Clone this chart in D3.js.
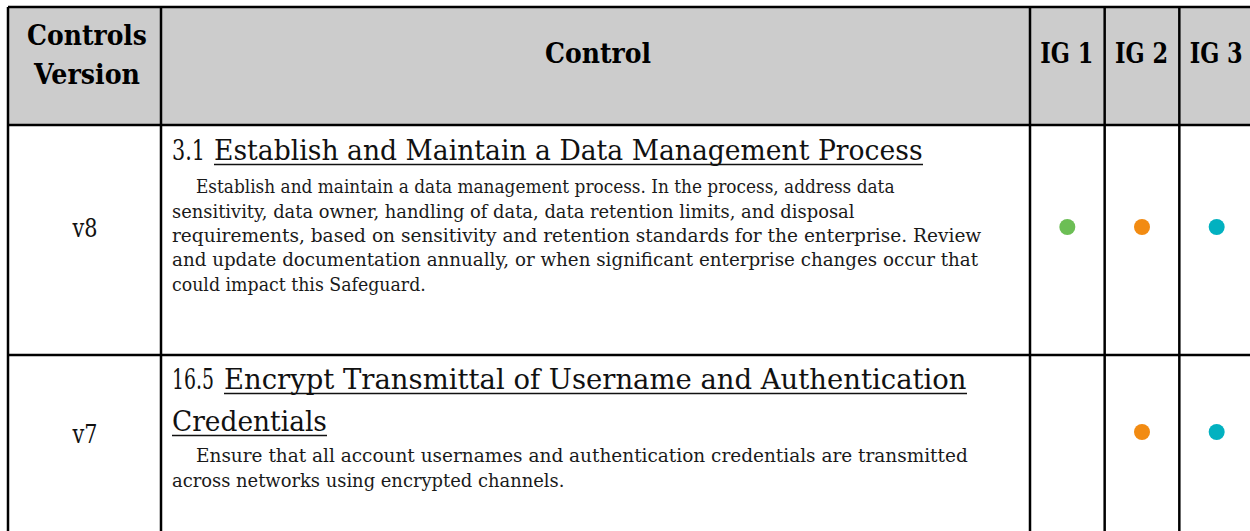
<!DOCTYPE html>
<html>
<head>
<meta charset="utf-8">
<script src="https://cdn.jsdelivr.net/npm/d3@7"></script>
<style>
  html, body { margin: 0; padding: 0; background: #ffffff; }
  svg { display: block; }
</style>
</head>
<body>
<svg id="chart" width="1250" height="531"></svg>
<script>
// ---------------- data ----------------
const headerLabels = ["Controls Version", "Control"];
const igLabels = ["IG 1", "IG 2", "IG 3"];
const versions = ["v8", "v7"];
const controlIds = ["3.1", "16.5"];
const controlTitles = [
  ["Establish and Maintain a Data Management Process"],
  ["Encrypt Transmittal of Username and Authentication", "Credentials"]
];
const descriptions = [
  [
    "Establish and maintain a data management process. In the process, address data",
    "sensitivity, data owner, handling of data, data retention limits, and disposal",
    "requirements, based on sensitivity and retention standards for the enterprise. Review",
    "and update documentation annually, or when significant enterprise changes occur that",
    "could impact this Safeguard."
  ],
  [
    "Ensure that all account usernames and authentication credentials are transmitted",
    "across networks using encrypted channels."
  ]
];
const igFlags = [
  [true, true, true],
  [false, true, true]
];
const igColors = ["#6cbe55", "#f28b12", "#02b1c0"];

// ---------------- layout ----------------
const svg = d3.select("#chart");
const FONT = "'DejaVu Serif', 'Liberation Serif', serif";
const tableLeft = 8, colVersionRight = 161, colControlRight = 1030, tableRight = 1254;
const headerTop = 7, headerBottom = 125;
const rowBounds = [[125, 355], [355, 560]];

const x = d3.scaleBand().domain(igLabels).range([colControlRight, tableRight]);
const color = d3.scaleOrdinal().domain(igLabels).range(igColors);

// header background
svg.append("rect")
  .attr("x", tableLeft).attr("y", headerTop)
  .attr("width", tableRight - tableLeft).attr("height", headerBottom - headerTop)
  .attr("fill", "#cccccc");

// text fitted horizontally to a measured width (condensed like the reference face)
function addText(g, str, opts) {
  const t = g.append("text")
    .attr("font-family", opts.family || FONT)
    .attr("font-size", opts.size)
    .attr("font-weight", opts.bold ? "bold" : "normal")
    .attr("fill", opts.fill || "#111")
    .attr("text-anchor", opts.anchor || "start")
    .text(str);
  if (opts.width) {
    const nat = t.node().getComputedTextLength();
    const sx = nat > 0 ? opts.width / nat : 1;
    t.attr("transform", `translate(${opts.x},${opts.y}) scale(${sx},1)`);
  } else {
    t.attr("x", opts.x).attr("y", opts.y);
  }
  return t;
}

const g = svg.append("g");

// header texts
addText(g, "Controls", {x: 87, y: 45, size: 27, bold: true, anchor: "middle", width: 120, fill: "#000"});
addText(g, "Version", {x: 87, y: 84, size: 27, bold: true, anchor: "middle", width: 106, fill: "#000"});
addText(g, headerLabels[1], {x: 598, y: 63, size: 27, bold: true, anchor: "middle", width: 106, fill: "#000"});
igLabels.forEach(l => {
  addText(g, l, {x: x(l) + x.bandwidth() / 2 - 0.5, y: 63, size: 27, bold: true, anchor: "middle", width: 53, fill: "#000"});
});

// row layout (baselines)
const rowLayout = [
  {versionY: 237, dotY: 227, titleY: [160], descY: [193, 217.5, 242, 266, 290.5],
   idWidth: 33, gap: 9, titleWidths: [709], descWidths: [699, 683, 810, 807, 254]},
  {versionY: 443, dotY: 432, titleY: [389, 431], descY: [462, 487],
   idWidth: 42, gap: 10, titleWidths: [743, 155], descWidths: [772, 393]}
];

versions.forEach((v, i) => {
  const L = rowLayout[i];
  addText(g, v, {x: 85, y: L.versionY, size: 26, anchor: "middle", width: 25, fill: "#111"});

  // control id + underlined title
  addText(g, controlIds[i], {x: 172, y: L.titleY[0], size: 28, width: L.idWidth, fill: "#111"});
  controlTitles[i].forEach((line, j) => {
    const tx = j === 0 ? 172 + L.idWidth + L.gap : 172;
    addText(g, line, {x: tx, y: L.titleY[j], size: 28, width: L.titleWidths[j], fill: "#111"});
    g.append("line")
      .attr("x1", tx).attr("x2", tx + L.titleWidths[j])
      .attr("y1", L.titleY[j] + 4.5).attr("y2", L.titleY[j] + 4.5)
      .attr("stroke", "#111").attr("stroke-width", 1.5);
  });

  descriptions[i].forEach((line, j) => {
    addText(g, line, {x: j === 0 ? 196 : 172, y: L.descY[j], size: 19, width: L.descWidths[j], fill: "#1a1a1a"});
  });

  // dots
  igLabels.forEach((l, k) => {
    if (igFlags[i][k]) {
      g.append("circle")
        .attr("cx", x(l) + x.bandwidth() / 2)
        .attr("cy", L.dotY)
        .attr("r", 8)
        .attr("fill", color(l));
    }
  });
});

// grid lines
const lines = svg.append("g").attr("stroke", "#000").attr("stroke-width", 2.5);
const vx = [tableLeft, colVersionRight, colControlRight, x("IG 2"), x("IG 3")];
vx.forEach(v => lines.append("line").attr("x1", v).attr("x2", v).attr("y1", headerTop).attr("y2", 600));
[headerTop, headerBottom, rowBounds[0][1]].forEach(h =>
  lines.append("line").attr("x1", tableLeft).attr("x2", 1260).attr("y1", h).attr("y2", h));
</script>
</body>
</html>
